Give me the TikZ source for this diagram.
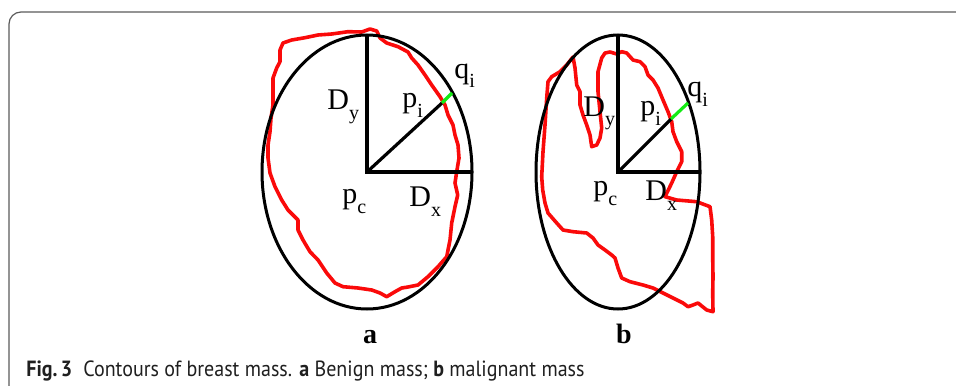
\documentclass[tikz,border=0pt]{standalone}
\usepackage{fontspec}
\setmainfont{Liberation Serif}
\newfontfamily\capfont{PT Sans}
\usepackage{tikz}
\usetikzlibrary{positioning}
\definecolor{contred}{RGB}{250,10,10}
\definecolor{gapgreen}{RGB}{20,235,20}
\definecolor{framegray}{RGB}{90,90,90}
\newcommand{\sublbl}[2]{#1\raisebox{-5pt}{\fontsize{10}{10}\selectfont #2}}

\begin{document}
\begin{tikzpicture}[x=0.5pt,y=-0.5pt,
      ell/.style={draw=black,line width=1.5pt},
      seg/.style={draw=black,line width=1.6pt},
      gap/.style={draw=gapgreen,line width=1.6pt},
      cont/.style={draw=contred,line width=1.8pt,line join=round},
      lbl/.style={anchor=base west,inner sep=0pt,font=\fontsize{15}{15}\selectfont},
      plab/.style={anchor=base,inner sep=0pt,font=\fontsize{14}{14}\selectfont\bfseries},
      captext/.style={anchor=base west,inner sep=0pt,text=black!88,font=\capfont\fontsize{11}{13}\selectfont}]
    \useasboundingbox (0,0) rectangle (956,385);
    \begin{scope}
      \clip (0,0) rectangle (956,385);
      \draw[framegray,line width=0.6pt,rounded corners=6] (9,400) |- (970,12);
    \end{scope}
    % panel a: benign
    \coordinate (pca) at (367,172);
    \coordinate (dya) at (367,35);
    \coordinate (dxa) at (472,172);
    \coordinate (pia) at (442,103);
    \coordinate (qia) at (452,93);
    \draw[cont] (370,29) -- (376.7,31) -- (380,38) -- (386.7,43) -- (398,46.7) -- (408,52)
      -- (411.7,58) -- (418,65) -- (425,75) -- (431.7,85) -- (440,96.7) -- (445,105)
      -- (448,115) -- (453,125) -- (455,135) -- (458,145) -- (459,158) -- (456.7,171.7)
      -- (455,183) -- (457.7,195) -- (455,206.7) -- (451.7,223) -- (450,240) -- (446.7,256.7)
      -- (438,266.7) -- (428,276.7) -- (418,285) -- (408,287) -- (401.7,288) -- (395,291.7)
      -- (386.7,296.7) -- (380,293) -- (371.7,290) -- (358,288) -- (343,286.7) -- (335,283)
      -- (326.7,273) -- (318,260) -- (310,251.7) -- (303,240) -- (298,230) -- (298,220)
      -- (288,210) -- (281.7,200) -- (275,186.7) -- (270,173) -- (268,158) -- (268,145)
      -- (270,131.7) -- (271,118) -- (273,105) -- (273,91.7) -- (273,78) -- (276.7,68)
      -- (280,61.7) -- (280,50) -- (283,43) -- (291.7,40) -- (305,37.7) -- (318,35)
      -- (331.7,34) -- (348,31.7) -- (361.7,32) -- cycle;
    \draw[ell] (pca) ellipse [x radius=105,y radius=137];
    \draw[seg] (dya) -- (pca) -- (dxa);
    \draw[seg] (pca) -- (pia);
    \draw[gap] (pia) -- (qia);
    \node[lbl] (dylbla) at (327,110) {\sublbl{D}{y}};
    \node[lbl] (pilbla) at (402,107) {\sublbl{p}{i}};
    \node[lbl] (qilbla) at (454,78) {\sublbl{q}{i}};
    \node[lbl] (pclbla) at (342,203) {\sublbl{p}{c}};
    \node[lbl] (dxlbla) at (409,206) {\sublbl{D}{x}};
    \node[plab] (taga) at (370,343) {a};
    % panel b: malignant
    \coordinate (pcb) at (618,172);
    \coordinate (dyb) at (618,35);
    \coordinate (dxb) at (700,172);
    \coordinate (pib) at (671,119);
    \coordinate (qib) at (688,103);
    \draw[cont] (541.7,176.7) -- (543,151.7) -- (545,125) -- (546.7,98) -- (548,81.7)
      -- (551.7,76.7) -- (560,71.7) -- (566.7,65) -- (573,57) -- (575,68) -- (576.7,85)
      -- (580,91.7) -- (580,105) -- (583,115) -- (586.7,125) -- (590,135) -- (591.7,146.7)
      -- (596.7,145) -- (600,138) -- (601.7,128) -- (600,111.7) -- (598,91.7) -- (598,71.7)
      -- (601.7,58) -- (605,53) -- (610,52) -- (616.7,54) -- (621.7,51.7) -- (626.7,53)
      -- (633,60) -- (640,61.7) -- (645,66.7) -- (648,75) -- (653,80) -- (658,88)
      -- (663,100) -- (668,111.7) -- (671.7,121.7) -- (673,131.7) -- (676.7,141.7)
      -- (681.7,151.7) -- (681.7,161.7) -- (676.7,171.7) -- (671.7,183) -- (665,196.7)
      -- (676.7,200) -- (696.7,201.7) -- (710,206.7) -- (711.7,220) -- (712.7,236.7)
      -- (712.7,256.7) -- (713,276.7) -- (712.7,293) -- (713,311.7) -- (706.7,310)
      -- (698,303) -- (693,305) -- (688,306.7) -- (683,303) -- (673,298) -- (663,293)
      -- (653,288) -- (643,285) -- (630,281.7) -- (621.7,278) -- (618,268) -- (615,258)
      -- (611.7,255) -- (605,250) -- (598,245) -- (593,238) -- (586.7,233) -- (573,231.7)
      -- (563,230) -- (556.7,223) -- (548,213) -- (545,203) -- (542.7,190) -- cycle;
    \draw[ell] (pcb) ellipse [x radius=82,y radius=137];
    \draw[seg] (dyb) -- (pcb) -- (dxb);
    \draw[seg] (pcb) -- (pib);
    \draw[gap] (pib) -- (qib);
    \node[lbl] (dylblb) at (583,116) {\sublbl{D}{y}};
    \node[lbl] (pilblb) at (640,115) {\sublbl{p}{i}};
    \node[lbl] (qilblb) at (687,97) {\sublbl{q}{i}};
    \node[lbl] (pclblb) at (593,195) {\sublbl{p}{c}};
    \node[lbl] (dxlblb) at (645,200) {\sublbl{D}{x}};
    \node[plab] (tagb) at (624,343) {b};
    % caption
    \node[captext] (caption) at (26,376) {\scalebox{0.91}[1]{\textbf{Fig.\,3}\hspace{0.55em}Contours of breast mass. \textbf{a} Benign mass; \textbf{b} malignant mass}};
  \end{tikzpicture}
\end{document}
